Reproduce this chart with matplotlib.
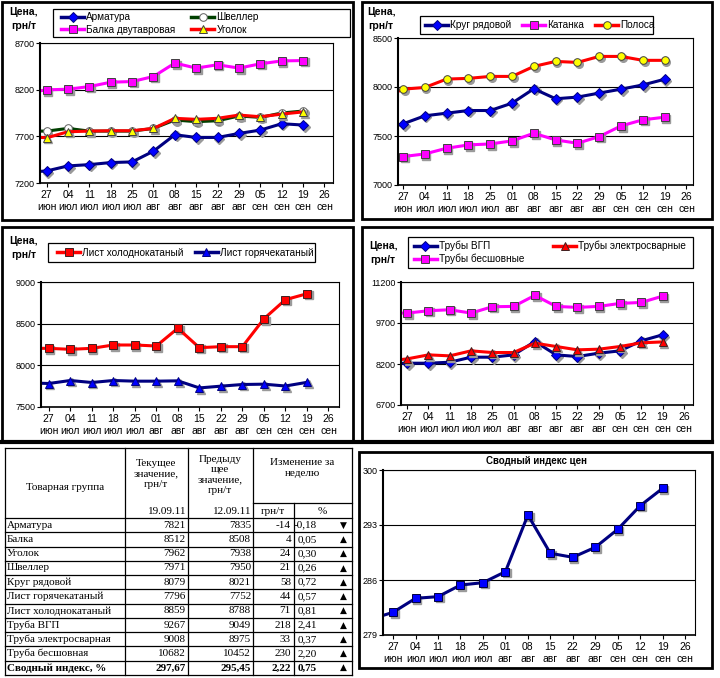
import numpy as np
import matplotlib
matplotlib.use("Agg")
import matplotlib.pyplot as plt
from matplotlib.lines import Line2D
from matplotlib.patches import Rectangle
from matplotlib.transforms import offset_copy

plt.rcParams['font.family'] = ['Liberation Sans', 'DejaVu Sans']

W, H = 720, 678

# weeks: index -1 is 20 июн (only the line entering from the left edge is visible)
weeks = np.arange(-1, 13)
tick_pos = np.arange(0, 14)
tick_lbl = ['27\nиюн', '04\nиюл', '11\nиюл', '18\nиюл', '25\nиюл', '01\nавг', '08\nавг',
            '15\nавг', '22\nавг', '29\nавг', '05\nсен', '12\nсен', '19\nсен', '26\nсен']

# panel 1
armatura = [7315, 7329, 7383, 7397, 7419, 7426, 7541, 7717, 7688, 7688, 7731, 7767, 7835, 7821]
balka = [8165, 8198, 8205, 8233, 8280, 8287, 8341, 8485, 8431, 8467, 8431, 8477, 8508, 8512]
shveller = [7756, 7756, 7785, 7756, 7756, 7756, 7785, 7875, 7857, 7867, 7918, 7903, 7950, 7971]
ugolok = [7700, 7684, 7749, 7756, 7760, 7760, 7785, 7893, 7882, 7893, 7928, 7910, 7938, 7962]
# panel 2
krug = [7560, 7624, 7706, 7733, 7760, 7760, 7835, 7982, 7880, 7897, 7938, 7978, 8021, 8079]
katanka = [7230, 7290, 7317, 7375, 7409, 7419, 7450, 7528, 7460, 7426, 7494, 7603, 7665, 7692]
polosa = [7880, 7978, 7995, 8081, 8088, 8108, 8108, 8210, 8261, 8251, 8312, 8312, 8272, 8272]
# panel 3
list_hk = [8204, 8204, 8192, 8204, 8244, 8244, 8232, 8445, 8212, 8224, 8224, 8558, 8788, 8859]
list_gk = [7790, 7782, 7818, 7794, 7818, 7810, 7810, 7814, 7729, 7750, 7770, 7774, 7752, 7796]
# panel 4
truby_vgp = [8200, 8229, 8229, 8265, 8449, 8449, 8534, 9023, 8534, 8473, 8596, 8681, 9049, 9267]
truby_el = [8300, 8388, 8534, 8498, 8681, 8620, 8620, 8962, 8840, 8718, 8742, 8840, 8975, 9008]
truby_bs = [10063, 10063, 10148, 10185, 10063, 10295, 10307, 10711, 10307, 10271, 10307, 10417, 10452, 10682]
# index
index_vals = [281.0, 281.89, 283.67, 283.88, 285.36, 285.66, 287.06, 294.27, 289.40, 288.89, 290.16,
              292.45, 295.45, 297.67]

# table
tbl_names = ['Арматура', 'Балка', 'Уголок', 'Швеллер', 'Круг рядовой', 'Лист горячекатаный',
             'Лист холоднокатаный', 'Труба ВГП', 'Труба электросварная', 'Труба бесшовная',
             'Сводный индекс, %']
tbl_cur = ['7821', '8512', '7962', '7971', '8079', '7796', '8859', '9267', '9008', '10682', '297,67']
tbl_prev = ['7835', '8508', '7938', '7950', '8021', '7752', '8788', '9049', '8975', '10452', '295,45']
tbl_abs = ['-14', '4', '24', '21', '58', '44', '71', '218', '33', '230', '2,22']
tbl_pct = ['-0,18', '0,05', '0,30', '0,26', '0,72', '0,57', '0,81', '2,41', '0,37', '2,20', '0,75']
tbl_dir = ['▼', '▲', '▲', '▲', '▲', '▲', '▲', '▲', '▲', '▲', '▲']

NAVY, BLUE, MAG, RED, YEL, DGRN = '#000080', '#0000FF', '#FF00FF', '#FF0000', '#FFFF00', '#004000'


def rect(x0, y0, x1, y1):
    return [x0 / W, 1 - y1 / H, (x1 - x0) / W, (y1 - y0) / H]


fig = plt.figure(figsize=(7.2, 6.78), dpi=100)
bg = fig.add_axes([0, 0, 1, 1])
bg.set_xlim(0, W)
bg.set_ylim(H, 0)
bg.axis('off')

# panel frames
for (x0, y0, x1, y1) in [(2, 2, 353, 220), (362, 2, 712, 219), (2, 227, 353, 441), (362, 227, 712, 441),
                         (359, 452, 712, 668)]:
    bg.add_patch(Rectangle((x0, y0), x1 - x0, y1 - y0, fill=False, ec='black', lw=2))
bg.plot([0, 712], [442, 442], color='black', lw=3)


def make_ax(r, xl, yl, yt):
    ax = fig.add_axes(rect(*r))
    ax.set_xlim(*xl)
    ax.set_ylim(*yl)
    ax.set_yticks(yt)
    ax.set_xticks(tick_pos)
    ax.set_xticklabels(tick_lbl, fontsize=7.5, linespacing=1.25)
    ax.tick_params(axis='y', labelsize=6.5, length=3, pad=1)
    ax.tick_params(axis='x', length=3, pad=2)
    for s in ax.spines.values():
        s.set_linewidth(0.8)
    ax.spines['left'].set_linewidth(1.5)
    ax.spines['bottom'].set_linewidth(1.2)
    ax.grid(axis='y', color='black', lw=0.8)
    ax.set_axisbelow(True)
    return ax


def series(ax, y, color, marker, mfc, mec, ms):
    shadow = offset_copy(ax.transData, fig=fig, x=1.2, y=-1.2, units='points')
    ax.plot(weeks, y, ls='none', marker=marker, ms=ms, mfc='#9a9a9a', mec='#9a9a9a', transform=shadow)
    ax.plot(weeks, y, color=color, lw=2.2, marker=marker, ms=ms, mfc=mfc, mec=mec, mew=0.7)
    return Line2D([], [], color=color, lw=2.5, marker=marker, ms=ms, mfc=mfc, mec=mec, mew=0.7)


def legend(ax, handles, labels, box, hx, yc, ncol, colsp):
    x0, y0, x1, y1 = box
    bg.add_patch(Rectangle((x0, y0), x1 - x0, y1 - y0, fill=True, fc='white', ec='black', lw=0.9, zorder=5))
    ax.legend(handles, labels, loc='center left', bbox_to_anchor=(hx / W, 1 - yc / H),
              bbox_transform=fig.transFigure, ncol=ncol, fontsize=7.2, frameon=False,
              borderpad=0, labelspacing=0.25, handlelength=2.3, handletextpad=0.2,
              borderaxespad=0, columnspacing=colsp)


def price_label(x, y):
    bg.text(x, y, 'Цена,\nгрн/т', ha='center', va='top', fontsize=7.5, fontweight='bold', linespacing=1.5)


# panel 1
ax1 = make_ax((40, 43, 333, 183), (-0.31, 13.4), (7200, 8700), [7200, 7700, 8200, 8700])
h_a = series(ax1, armatura, NAVY, 'D', BLUE, NAVY, 5)
h_b = series(ax1, balka, MAG, 's', MAG, '#404040', 6)
h_s = series(ax1, shveller, DGRN, 'o', 'white', '#606060', 5.5)
h_u = series(ax1, ugolok, RED, '^', YEL, '#404040', 6)
legend(ax1, [h_a, h_b, h_s, h_u], ['Арматура', 'Балка двутавровая', 'Швеллер', 'Уголок'],
       (53, 9, 350, 37), 61, 23.5, 2, 1.6)
price_label(24, 7)

# panel 2
ax2 = make_ax((398, 38, 693, 185), (-0.23, 13.3), (7000, 8500), [7000, 7500, 8000, 8500])
h_k = series(ax2, krug, NAVY, 'D', BLUE, NAVY, 5)
h_kt = series(ax2, katanka, MAG, 's', MAG, '#404040', 6)
h_p = series(ax2, polosa, RED, 'o', YEL, '#404040', 5.5)
legend(ax2, [h_k, h_kt, h_p], ['Круг рядовой', 'Катанка', 'Полоса'], (420, 16, 653, 34), 425, 25, 3, 1.1)
price_label(381, 7)

# panel 3
ax3 = make_ax((41, 282, 339, 407), (-0.36, 13.49), (7500, 9000), [7500, 8000, 8500, 9000])
h_hk = series(ax3, list_hk, RED, 's', RED, '#402020', 6)
h_gk = series(ax3, list_gk, NAVY, '^', BLUE, NAVY, 6)
legend(ax3, [h_hk, h_gk], ['Лист холоднокатаный', 'Лист горячекатаный'], (48, 243, 315, 262), 57, 252.5, 2, 1.1)
price_label(24, 236)

# panel 4
ax4 = make_ax((401, 282, 693, 405), (-0.29, 13.43), (6700, 11200), [6700, 8200, 9700, 11200])
h_v = series(ax4, truby_vgp, NAVY, 'D', BLUE, NAVY, 5)
h_e = series(ax4, truby_el, RED, '^', RED, '#402020', 6)
h_bs = series(ax4, truby_bs, MAG, 's', MAG, '#404040', 6)
legend(ax4, [h_v, h_bs, h_e], ['Трубы ВГП', 'Трубы бесшовные', 'Трубы электросварные'],
       (408, 237, 693, 268), 414, 252.5, 2, 2.9)
price_label(383, 241)

# panel 6
ax6 = make_ax((383, 470, 695, 635), (-0.45, 13.44), (279, 300), [279, 286, 293, 300])
series(ax6, index_vals, NAVY, 's', BLUE, '#000040', 6)
bg.text(536, 461, 'Сводный индекс цен', ha='center', va='center', fontsize=7, fontweight='bold')

# table
serif = ['Liberation Serif', 'DejaVu Serif']
cx = [5, 125, 188, 253, 294, 352]
top, sub, hb = 448, 503, 518
rh = (675 - hb) / len(tbl_names)
lw = 0.9
bg.plot([cx[0], cx[-1]], [top, top], color='black', lw=lw)
for i in range(len(tbl_names) + 1):
    y = hb + i * rh
    bg.plot([cx[0], cx[-1]], [y, y], color='black', lw=lw)
bg.plot([cx[3], cx[5]], [sub, sub], color='black', lw=lw)
for j, x in enumerate(cx):
    y0 = sub if j == 4 else top
    bg.plot([x, x], [y0, 675], color='black', lw=lw)

fs = 8
bg.text(65, 487, 'Товарная группа', ha='center', va='center', fontsize=fs, family=serif)
bg.text(156, 474, 'Текущее\nзначение,\nгрн/т', ha='center', va='center', fontsize=fs, family=serif,
        linespacing=1.15)
bg.text(186, 511, '19.09.11', ha='right', va='center', fontsize=fs, family=serif)
bg.text(220, 475, 'Предыду\nщее\nзначение,\nгрн/т', ha='center', va='center', fontsize=fs, family=serif,
        linespacing=1.15)
bg.text(251, 511, '12.09.11', ha='right', va='center', fontsize=fs, family=serif)
bg.text(302, 468, 'Изменение за\nнеделю', ha='center', va='center', fontsize=fs, family=serif, linespacing=1.15)
bg.text(273, 511, 'грн/т', ha='center', va='center', fontsize=fs, family=serif)
bg.text(322, 511, '%', ha='center', va='center', fontsize=fs, family=serif)

for i, name in enumerate(tbl_names):
    yc = hb + (i + 0.5) * rh
    fw = 'bold' if i == len(tbl_names) - 1 else 'normal'
    bg.text(7, yc, name, ha='left', va='center', fontsize=fs, family=serif, fontweight=fw)
    bg.text(186, yc, tbl_cur[i], ha='right', va='center', fontsize=fs, family=serif, fontweight=fw)
    bg.text(251, yc, tbl_prev[i], ha='right', va='center', fontsize=fs, family=serif, fontweight=fw)
    bg.text(291, yc, tbl_abs[i], ha='right', va='center', fontsize=fs, family=serif, fontweight=fw)
    bg.text(317, yc, tbl_pct[i], ha='right', va='center', fontsize=fs, family=serif, fontweight=fw)
    bg.text(343, yc, tbl_dir[i], ha='center', va='center', fontsize=6.5, family='DejaVu Sans')

fig.savefig('out.png', dpi=100)
